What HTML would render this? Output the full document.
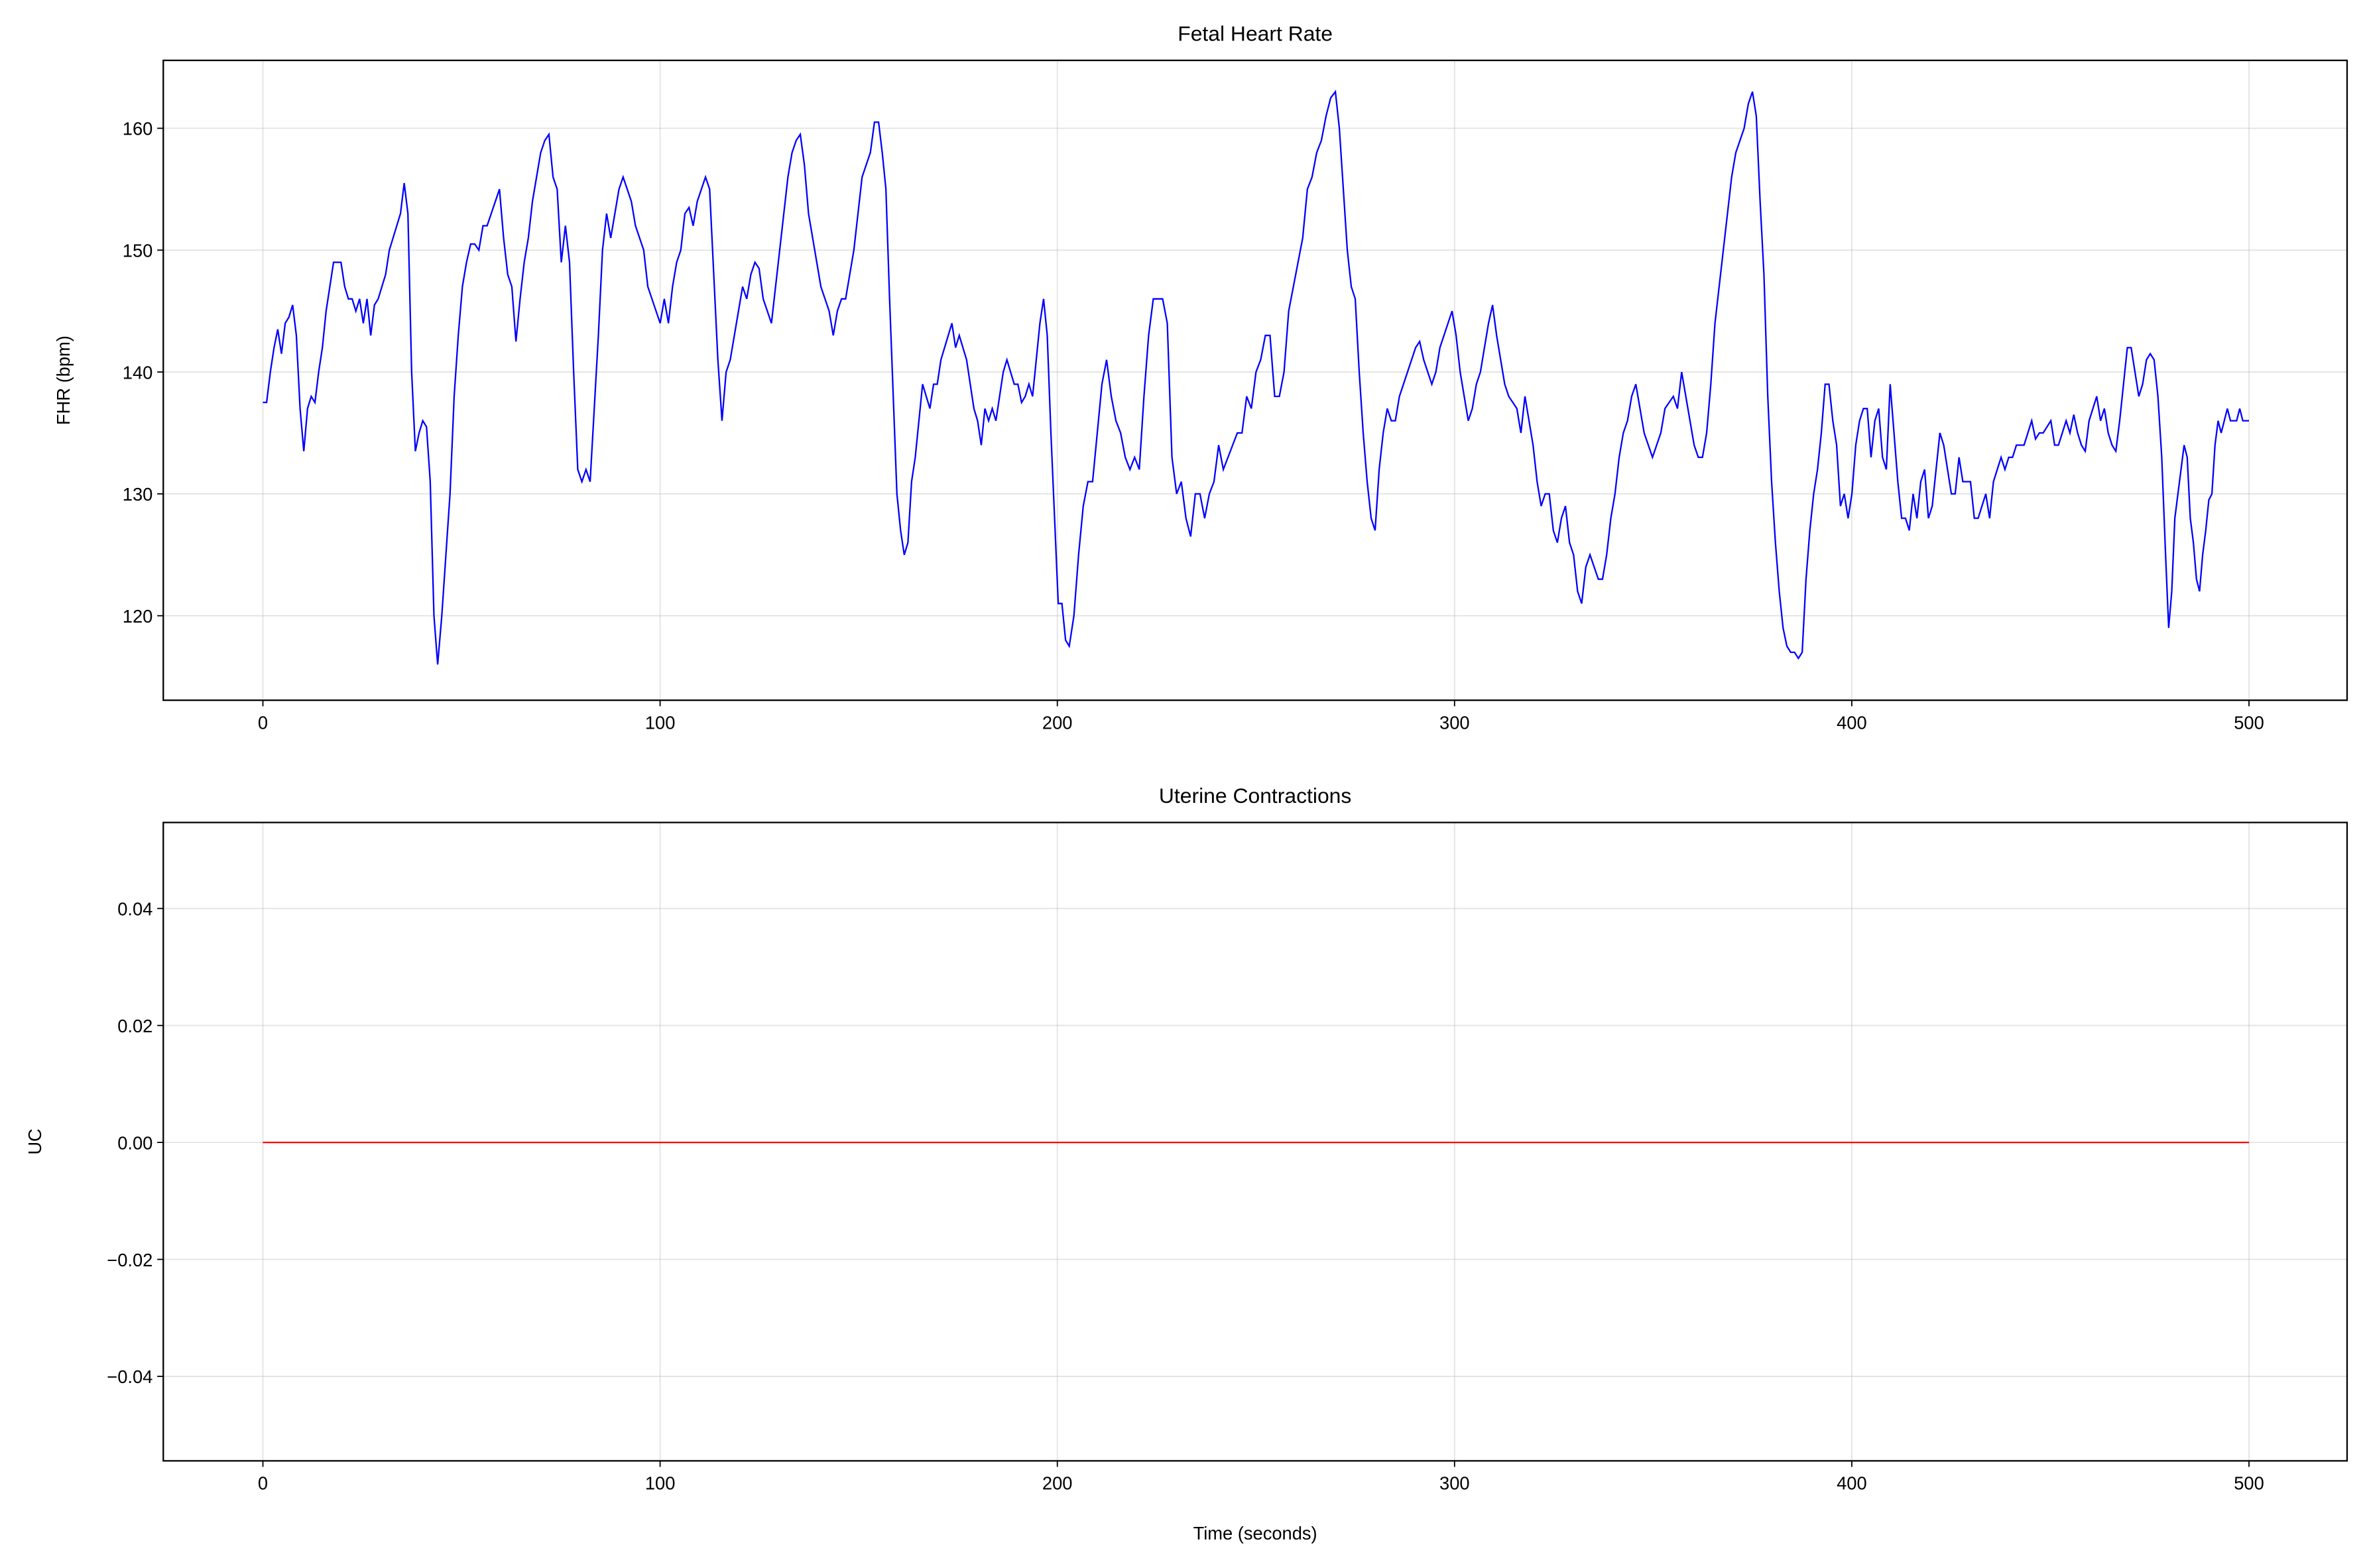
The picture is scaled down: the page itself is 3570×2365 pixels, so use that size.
<!DOCTYPE html>
<html><head><meta charset="utf-8">
<style>
html,body{margin:0;padding:0;background:#fff;}
svg{display:block;font-family:"Liberation Sans","DejaVu Sans",sans-serif;}
</style></head>
<body>
<svg id="chart" width="3570" height="2365" viewBox="0 0 1568 1039" xmlns="http://www.w3.org/2000/svg">
<rect width="1568" height="1039" fill="#fff"/>
<g id="gtop"></g>
<g id="gbot"></g>
</svg>
<script>
const xTicks = [0,100,200,300,400,500];
const fhrTicks = [120,130,140,150,160];
const ucTicks = [-0.04,-0.02,0.00,0.02,0.04];
const ucTickLabels = ["\u22120.04","\u22120.02","0.00","0.02","0.04"];
const fhrValues = [137.5,137.5,140,142,143.5,141.5,144,144.5,145.5,143,137,133.5,137,138,137.5,140,142,145,147,149,149,149,147,146,146,145,146,144,146,143,145.5,146,147,148,150,151,152,153,155.5,153,140,133.5,135,136,135.5,131,120,116,120,125,130,138,143,147,149,150.5,150.5,150,152,152,153,154,155,151,148,147,142.5,146,149,151,154,156,158,159,159.5,156,155,149,152,149,140,132,131,132,131,137,143,150,153,151,153,155,156,155,154,152,151,150,147,146,145,144,146,144,147,149,150,153,153.5,152,154,155,156,155,148,141,136,140,141,143,145,147,146,148,149,148.5,146,145,144,147,150,153,156,158,159,159.5,157,153,151,149,147,146,145,143,145,146,146,148,150,153,156,157,158,160.5,160.5,158,155,146,138,130,127,125,126,131,133,136,139,138,137,139,139,141,142,143,144,142,143,142,141,139,137,136,134,137,136,137,136,138,140,141,140,139,139,137.5,138,139,138,141,144,146,143,135,128,121,121,118,117.5,120,125,129,131,131,135,139,141,138,136,135,133,132,133,132,138,143,146,146,146,144,133,130,131,128,126.5,130,130,128,130,131,134,132,133,134,135,135,138,137,140,141,143,143,138,138,140,145,147,149,151,155,156,158,159,161,162.5,163,160,155,150,147,146,140,135,131,128,127,132,135,137,136,136,138,139,140,141,142,142.5,141,140,139,140,142,143,144,145,143,140,138,136,137,139,140,142,144,145.5,143,141,139,138,137.5,137,135,138,136,134,131,129,130,130,127,126,128,129,126,125,122,121,124,125,124,123,123,125,128,130,133,135,136,138,139,137,135,134,133,134,135,137,137.5,138,137,140,138,136,134,133,133,135,139,144,147,150,153,156,158,159,160,162,163,161,154,148,138,131,126,122,119,117.5,117,117,116.5,117,123,127,130,132,135,139,139,136,134,129,130,128,130,134,136,137,137,133,136,137,133,132,139,135,131,128,128,127,130,128,131,132,128,129,132,135,134,132,130,130,133,131,131,131,128,128,129,130,128,131,132,133,132,133,133,134,134,134,135,136,134.5,135,135,135.5,136,134,134,135,136,135,136.5,135,134,133.5,136,137,138,136,137,135,134,133.5,136,139,142,142,140,138,139,141,141.5,141,138,133,125,119,122,128,130,132,134,133,128,126,123,122,125,127,129.5,130,134,136,135,136,137,136,136,136,137,136,136,136];
// sample index -> recorded time (seconds) landmarks
const sampleIdxMarks = [0,47,154,206,263,273,324,365,473,500];
const sampleTimeMarks = [0,44,155,203,270,280,332,375,479,500];
const ucValues = [0,0];
const ucTimes = [0,500];

function idxToTime(i){
  for(let k=1;k<sampleIdxMarks.length;k++){
    if(i<=sampleIdxMarks[k]){const a=sampleIdxMarks[k-1],b=sampleIdxMarks[k];
      return sampleTimeMarks[k-1]+(i-a)/(b-a)*(sampleTimeMarks[k]-sampleTimeMarks[k-1]);}
  }
  return sampleTimeMarks[sampleTimeMarks.length-1];
}

const NS="http://www.w3.org/2000/svg";
function mk(parent,tag,attrs,name){const e=document.createElementNS(NS,tag);for(const k in attrs)e.setAttribute(k,attrs[k]);


parent.appendChild(e);return e;}
const L=108,R=1555;
const xScale=t=>174+(t/500)*(1490-174);
const yFhr=v=>85+(160-v)*(408-85)/40;
const yUc=v=>757-v*(757-602)/0.04;

function panel(g,pTop,pBottom,title,ylabel,yTicks,yLabels,yScale,showXLabel){
  xTicks.forEach(t=>mk(g,'line',{x1:xScale(t),x2:xScale(t),y1:pTop,y2:pBottom,stroke:'#b0b0b0','stroke-opacity':0.35,'stroke-width':0.8},'x-gridline'));
  yTicks.forEach(t=>mk(g,'line',{x1:L,x2:R,y1:yScale(t),y2:yScale(t),stroke:'#b0b0b0','stroke-opacity':0.35,'stroke-width':0.8},'y-gridline'));
  xTicks.forEach(t=>{mk(g,'line',{x1:xScale(t),x2:xScale(t),y1:pBottom,y2:pBottom+4,stroke:'#000','stroke-width':0.8},'x-tick');
    const tx=mk(g,'text',{x:xScale(t),y:pBottom+19,'text-anchor':'middle','font-size':12},'x-tick-label');tx.textContent=t;});
  yTicks.forEach((t,i)=>{mk(g,'line',{x1:L-4,x2:L,y1:yScale(t),y2:yScale(t),stroke:'#000','stroke-width':0.8},'y-tick');
    const tx=mk(g,'text',{x:L-7,y:yScale(t)+4.5,'text-anchor':'end','font-size':12},'y-tick-label');tx.textContent=yLabels[i];});
  const tt=mk(g,'text',{x:(L+R)/2,y:pTop-13,'text-anchor':'middle','font-size':14},'chart-title');tt.textContent=title;
  const yl=mk(g,'text',{x:0,y:0,'text-anchor':'middle','font-size':12,transform:`translate(${ylabel[1]},${(pTop+pBottom)/2}) rotate(-90)`},'y-axis-title');yl.textContent=ylabel[0];
  if(showXLabel){const xl=mk(g,'text',{x:(L+R)/2,y:pBottom+52,'text-anchor':'middle','font-size':12},'x-axis-title');xl.textContent='Time (seconds)';}
}
const gTop=document.getElementById('gtop'), gBot=document.getElementById('gbot');
panel(gTop,40,464,'Fetal Heart Rate',['FHR (bpm)',46],fhrTicks,fhrTicks.map(String),yFhr,false);
panel(gBot,545,968,'Uterine Contractions',['UC',27],ucTicks,ucTickLabels,yUc,true);
mk(gTop,'polyline',{points:fhrValues.map((v,i)=>xScale(idxToTime(i))+','+yFhr(v)).join(' '),fill:'none',stroke:'#0000ff','stroke-width':1,'stroke-linejoin':'miter'},'fhr-line');
mk(gBot,'polyline',{points:ucValues.map((v,i)=>xScale(ucTimes[i])+','+yUc(v)).join(' '),fill:'none',stroke:'#ff0000','stroke-width':1},'uc-line');
mk(gTop,'rect',{x:L,y:40,width:R-L,height:424,fill:'none',stroke:'#000','stroke-width':1},'fhr-plot-frame');
mk(gBot,'rect',{x:L,y:545,width:R-L,height:423,fill:'none',stroke:'#000','stroke-width':1},'uc-plot-frame');
</script>
</body></html>
